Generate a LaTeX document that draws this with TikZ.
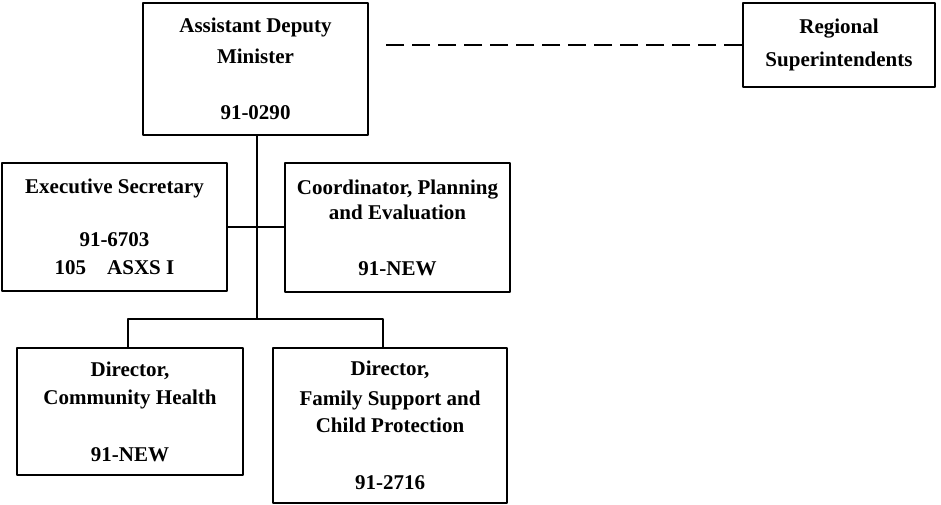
\documentclass[tikz,border=0pt]{standalone}
\usepackage{fontspec}
\setmainfont{Liberation Serif}
\begin{document}
\begin{tikzpicture}[x=1pt,y=-1pt,line width=1.6pt,line join=round,
  post/.style={draw,rectangle,inner sep=0pt,align=center,
    font=\bfseries\fontsize{21}{28}\selectfont},
  link/.style={line width=1.5pt}]
  \useasboundingbox (0,0) rectangle (941,505);
  \node[post,minimum width=225,minimum height=132] (adm) at (255.5,69)
    {Assistant Deputy\\[3pt]Minister\\[28pt]91-0290};
  \node[post,minimum width=192,minimum height=84] (reg) at (839,45)
    {Regional\\[5pt]Superintendents};
  \node[post,minimum width=225,minimum height=128] (exec) at (114.5,227)
    {Executive Secretary\\[25pt]91-6703\\105\quad ASXS I};
  \node[post,minimum width=225,minimum height=129] (coord) at (397.5,227.5)
    {Coordinator, Planning\\[-3pt]and Evaluation\\[28pt]91-NEW};
  \node[post,minimum width=226,minimum height=127] (comm) at (130,411.5)
    {Director,\\Community Health\\[29pt]91-NEW};
  \node[post,minimum width=234,minimum height=155] (fam) at (390,425.5)
    {Director,\\[2pt]Family Support and\\[-1pt]Child Protection\\[29pt]91-2716};
  \coordinate (split) at (257,319);
  \coordinate (lbar) at (128,319);
  \coordinate (rbar) at (383,319);
  \draw[link] (adm.south -| split) -- (split);
  \draw[link] (exec.east) -- (exec.east -| coord.west);
  \draw[link] (comm.north -| lbar) -- (lbar) -- (rbar) -- (fam.north -| rbar);
  \draw[link,dash pattern=on 18pt off 8pt] (reg.west) -- ([xshift=10pt]adm.east |- reg.west);
\end{tikzpicture}
\end{document}
